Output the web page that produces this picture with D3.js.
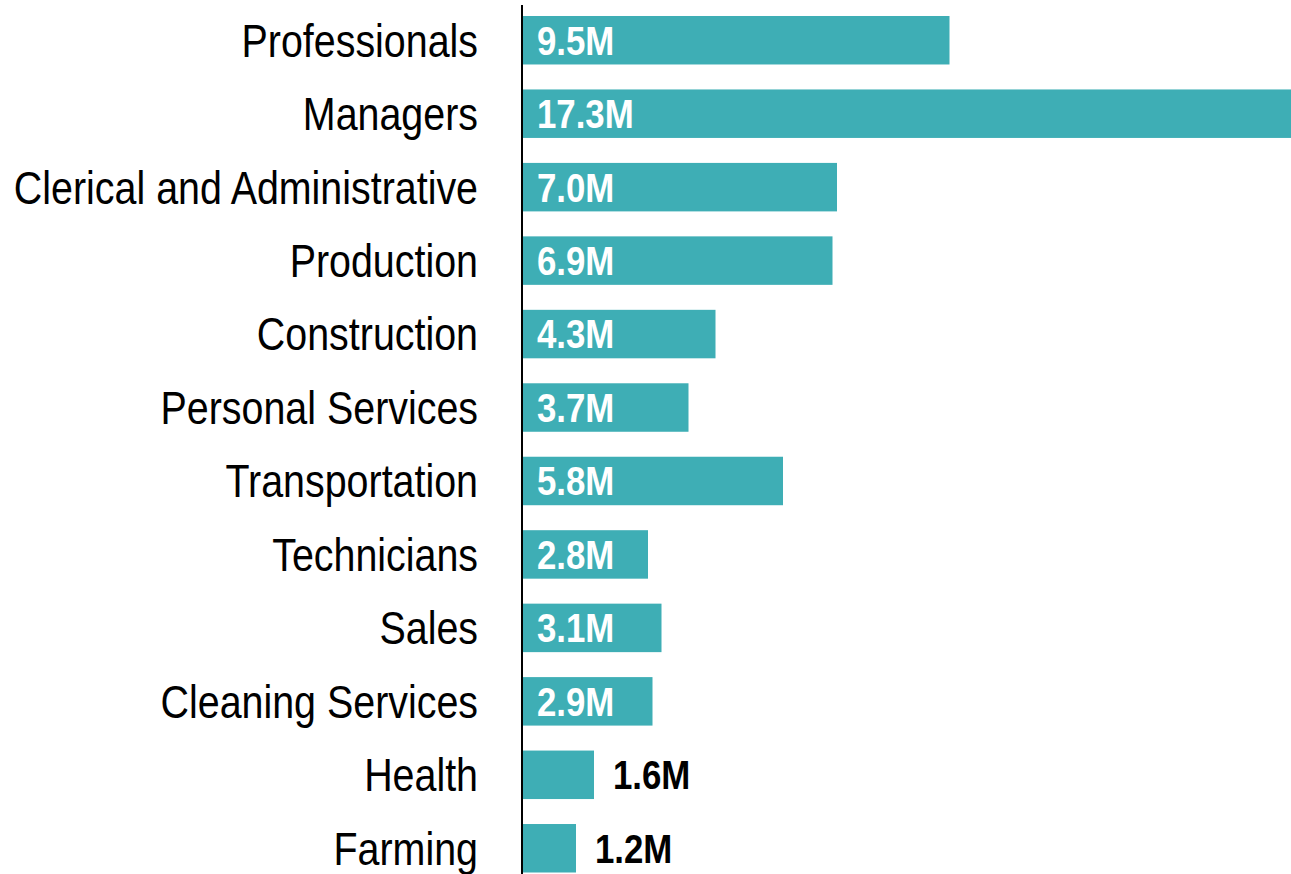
<!DOCTYPE html>
<html>
<head>
<meta charset="utf-8">
<script src="https://cdn.jsdelivr.net/npm/d3@7"></script>
<style>
  html, body { margin: 0; padding: 0; background: #fff; }
  svg { display: block; }
  text { font-family: "Liberation Sans", Arial, sans-serif; }
</style>
</head>
<body>
<svg id="chart" width="1291" height="874"></svg>
<script>
const categories = ["Professionals", "Managers", "Clerical and Administrative", "Production",
  "Construction", "Personal Services", "Transportation", "Technicians", "Sales",
  "Cleaning Services", "Health", "Farming"];
const values = [9.5, 17.3, 7.0, 6.9, 4.3, 3.7, 5.8, 2.8, 3.1, 2.9, 1.6, 1.2];
const valueLabels = ["9.5M", "17.3M", "7.0M", "6.9M", "4.3M", "3.7M", "5.8M", "2.8M", "3.1M", "2.9M", "1.6M", "1.2M"];

const data = categories.map((c, i) => ({ cat: c, v: values[i], label: valueLabels[i] }));

const svg = d3.select("#chart");
const axisX = 522;
const narrowCat = 0.866;
const narrowVal = 0.87;
const x = d3.scaleLinear().domain([0, 17.3]).range([axisX, axisX + 17.3 * 45]);
const y = d3.scaleBand().domain(categories).range([16, 872.5]).paddingInner(0.34).paddingOuter(0);

const color = "#3eaeb5";

svg.append("g").selectAll("rect").data(data).join("rect")
  .attr("x", x(0))
  .attr("y", d => y(d.cat))
  .attr("width", d => x(d.v) - x(0))
  .attr("height", y.bandwidth())
  .attr("fill", color);

// axis line
svg.append("line")
  .attr("x1", axisX).attr("x2", axisX)
  .attr("y1", 5).attr("y2", 874)
  .attr("stroke", "#000").attr("stroke-width", 2);

// category labels
svg.append("g").selectAll("text").data(data).join("text")
  .attr("transform", d => `translate(${axisX - 44},${y(d.cat) + y.bandwidth() / 2}) scale(${narrowCat},1)`)
  .attr("dy", "0.36em")
  .attr("text-anchor", "end")
  .attr("font-size", 45.5)
  .attr("fill", "#000")
  .text(d => d.cat);

// value labels
const inside = d => d.v >= 2;
svg.append("g").selectAll("text").data(data).join("text")
  .attr("transform", d => `translate(${inside(d) ? x(0) + 15 : x(d.v) + 19},${y(d.cat) + y.bandwidth() / 2}) scale(${narrowVal},1)`)
  .attr("dy", "0.36em")
  .attr("text-anchor", "start")
  .attr("font-size", 40)
  .attr("font-weight", "bold")
  .attr("fill", d => inside(d) ? "#fff" : "#000")
  .text(d => d.label);
</script>
</body>
</html>
